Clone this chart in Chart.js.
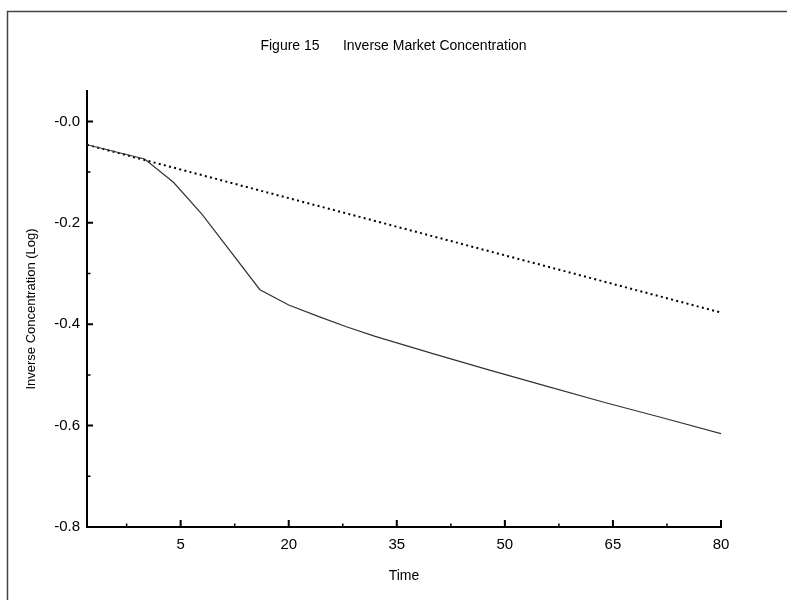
<!DOCTYPE html>
<html lang="en">
<head>
  <meta charset="UTF-8" />
  <title>Inverse Market Concentration</title>
  <script src="https://cdn.jsdelivr.net/npm/chart.js"></script>
  <style>
    body {
      margin: 0;
      background: #fff;
    }
    .container {
      position: relative;
      width: 787px;
      height: 600px;
    }
  </style>
</head>
<body>
  <div class="container">
    <canvas id="chart"></canvas>
  </div>

  <script>
    const TITLE = 'Figure 15      Inverse Market Concentration';

    // solid series: observed concentration (log)
    const timeIndex = [-8, 0, 4, 8, 16, 20, 24, 28, 32, 40, 48, 56, 64, 72, 80];
    const observedLog = [-0.046, -0.074, -0.120, -0.184, -0.332, -0.362, -0.384, -0.405, -0.424,
                         -0.458, -0.491, -0.523, -0.555, -0.585, -0.616];

    // dotted series: straight trend
    const trendTime = [-8, 80];
    const trendLog = [-0.046, -0.377];

    const xTickValues = [5, 20, 35, 50, 65, 80];
    const xMinorTicks = [-2.5, 12.5, 27.5, 42.5, 57.5, 72.5];
    const yTickValues = [-0.8, -0.6, -0.4, -0.2, 0];
    const yTickLabels = ['-0.8', '-0.6', '-0.4', '-0.2', '-0.0'];
    const yMinorTicks = [-0.7, -0.5, -0.3, -0.1];

    const FONT = '"Liberation Sans", Arial, sans-serif';

    const toPoints = (xs, ys) => xs.map((t, i) => ({ x: t, y: ys[i] }));

    // frame, heading and inward tick marks
    const figureDecor = {
      id: 'figureDecor',
      afterDraw(chart) {
        const { ctx, chartArea, scales: { x, y } } = chart;
        ctx.save();

        ctx.strokeStyle = '#444';
        ctx.lineWidth = 1.5;
        ctx.beginPath();
        ctx.moveTo(7.5, chart.height);
        ctx.lineTo(7.5, 11.5);
        ctx.lineTo(chart.width, 11.5);
        ctx.stroke();

        ctx.fillStyle = '#000';
        ctx.font = '14px ' + FONT;
        ctx.textAlign = 'center';
        ctx.textBaseline = 'alphabetic';
        ctx.fillText(TITLE, chart.width / 2, 50);

        ctx.strokeStyle = '#000';
        const mark = (len, vals, horizontal) => {
          ctx.beginPath();
          vals.forEach(v => {
            if (horizontal) {
              const px = x.getPixelForValue(v);
              ctx.moveTo(px, chartArea.bottom);
              ctx.lineTo(px, chartArea.bottom - len);
            } else {
              const py = y.getPixelForValue(v);
              ctx.moveTo(chartArea.left, py);
              ctx.lineTo(chartArea.left + len, py);
            }
          });
          ctx.stroke();
        };
        ctx.lineWidth = 2;
        mark(7, xTickValues, true);
        mark(6, yTickValues, false);
        ctx.lineWidth = 1.5;
        mark(3.5, xMinorTicks, true);
        mark(3.5, yMinorTicks, false);

        ctx.restore();
      }
    };

    const ctx = document.getElementById('chart').getContext('2d');
    new Chart(ctx, {
      type: 'line',
      data: {
        datasets: [
          {
            label: 'Observed',
            data: toPoints(timeIndex, observedLog),
            borderColor: '#333',
            borderWidth: 1.2,
            pointRadius: 0,
            fill: false,
            tension: 0
          },
          {
            label: 'Trend',
            data: toPoints(trendTime, trendLog),
            borderColor: '#000',
            borderWidth: 2,
            borderDash: [2, 3.3],
            borderCapStyle: 'butt',
            pointRadius: 0,
            fill: false
          }
        ]
      },
      options: {
        responsive: true,
        maintainAspectRatio: false,
        animation: false,
        layout: { padding: { top: 91, right: 66, bottom: 0, left: 0 } },
        plugins: {
          legend: { display: false },
          tooltip: { enabled: false },
          title: { display: false }
        },
        scales: {
          x: {
            type: 'linear',
            min: -8,
            max: 80,
            grid: { display: false, drawTicks: false },
            border: { display: true, color: '#000', width: 2 },
            afterBuildTicks: s => { s.ticks = xTickValues.map(v => ({ value: v })); },
            afterFit: s => { s.height = 73; },
            ticks: {
              padding: 9,
              color: '#000',
              font: { family: FONT, size: 15 },
              maxRotation: 0
            },
            title: {
              display: true,
              text: 'Time',
              color: '#000',
              font: { family: FONT, size: 14 },
              padding: { top: 0, bottom: 15 }
            }
          },
          y: {
            type: 'linear',
            min: -0.8,
            max: 0.06,
            grid: { display: false, drawTicks: false },
            border: { display: true, color: '#000', width: 2 },
            afterBuildTicks: s => { s.ticks = yTickValues.map(v => ({ value: v })); },
            afterFit: s => { s.width = 87; },
            ticks: {
              padding: 7,
              color: '#000',
              font: { family: FONT, size: 15 },
              callback: (value, index) => yTickLabels[index]
            },
            title: {
              display: true,
              text: 'Inverse Concentration (Log)',
              color: '#000',
              font: { family: FONT, size: 13 },
              padding: { top: 24, bottom: 0 }
            }
          }
        }
      },
      plugins: [figureDecor]
    });
  </script>
</body>
</html>
